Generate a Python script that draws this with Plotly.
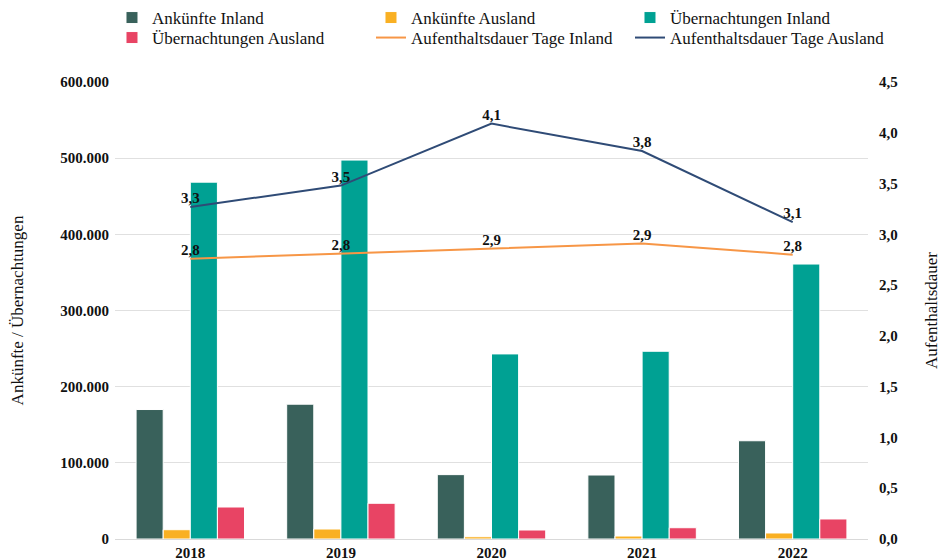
import plotly.graph_objects as go

years = ["2018", "2019", "2020", "2021", "2022"]
ankuenfte_inland = [170000, 177000, 84500, 84000, 129000]
ankuenfte_ausland = [12200, 13100, 3000, 3900, 7900]
uebernachtungen_inland = [468500, 497500, 243000, 246500, 361000]
uebernachtungen_ausland = [42000, 46900, 11800, 14800, 26300]
dauer_inland = [2.76, 2.81, 2.86, 2.91, 2.80]
dauer_ausland = [3.27, 3.48, 4.09, 3.82, 3.12]

FONT = "Liberation Serif"

fig = go.Figure()
bar_series = [
    ("Ankünfte Inland", ankuenfte_inland, "#39615B", "legend"),
    ("Ankünfte Ausland", ankuenfte_ausland, "#F9B023", "legend"),
    ("Übernachtungen Inland", uebernachtungen_inland, "#00A193", "legend"),
    ("Übernachtungen Ausland", uebernachtungen_ausland, "#E84464", "legend2"),
]
for name, vals, col, lg in bar_series:
    fig.add_trace(go.Bar(
        x=years, y=vals, name=name, legend=lg,
        marker=dict(color=col, line=dict(color="white", width=1)),
        yaxis="y",
    ))

for name, vals, col in [
    ("Aufenthaltsdauer Tage Inland", dauer_inland, "#F79646"),
    ("Aufenthaltsdauer Tage Ausland", dauer_ausland, "#2F4B76"),
]:
    fig.add_trace(go.Scatter(
        x=years, y=vals, name=name, mode="lines+text", legend="legend2",
        line=dict(color=col, width=2),
        text=[f"{v:.1f}".replace(".", ",") for v in vals],
        textposition="top center",
        textfont=dict(family=FONT, size=15, color="#111"),
        texttemplate="<b>%{text}</b>",
        yaxis="y2", cliponaxis=False,
    ))

PLOT_H = 560 - 82 - 21
legend_common = dict(
    orientation="h", xref="paper", yref="paper",
    xanchor="left", yanchor="middle",
    entrywidth=214, entrywidthmode="pixels",
    font=dict(family=FONT, size=17, color="#111"),
    itemwidth=30, tracegroupgap=0,
    bgcolor="rgba(0,0,0,0)",
)

fig.update_layout(
    width=941, height=560,
    margin=dict(l=115, r=73, t=82, b=21, autoexpand=False),
    paper_bgcolor="white", plot_bgcolor="white",
    separators=",.",
    barmode="group", bargap=0.28, bargroupgap=0,
    font=dict(family=FONT, size=14, color="#222"),
    showlegend=True,
    legend=dict(legend_common, x=-0.004, y=1 + (82 - 18) / PLOT_H),
    legend2=dict(legend_common, x=-0.004, y=1 + (82 - 38) / PLOT_H),
    xaxis=dict(
        showgrid=False, showline=True, linecolor="#d9d9d9", linewidth=1,
        ticks="", tickfont=dict(family=FONT, size=15, color="#111", weight="bold"),
    ),
    yaxis=dict(
        range=[0, 600000], dtick=100000, tickformat=",.0f",
        showgrid=True, gridcolor="#e0e0e0", gridwidth=1,
        zeroline=False, showline=False,
        ticks="", ticklabelstandoff=5,
        tickfont=dict(family=FONT, size=15, color="#111", weight="bold"),
        title=dict(text="Ankünfte / Übernachtungen", font=dict(family=FONT, size=17, color="#111"), standoff=32),
    ),
    yaxis2=dict(
        range=[0, 4.5], dtick=0.5, tickformat=".1f",
        overlaying="y", side="right",
        showgrid=False, zeroline=False, showline=False,
        ticks="", ticklabelstandoff=10,
        tickfont=dict(family=FONT, size=15, color="#111", weight="bold"),
        title=dict(text="Aufenthaltsdauer", font=dict(family=FONT, size=17, color="#111"), standoff=28),
    ),
)

fig.write_html(
    "out.html",
    config={"displayModeBar": False},
    post_script="document.body.style.margin='0';document.body.style.padding='0';",
)
